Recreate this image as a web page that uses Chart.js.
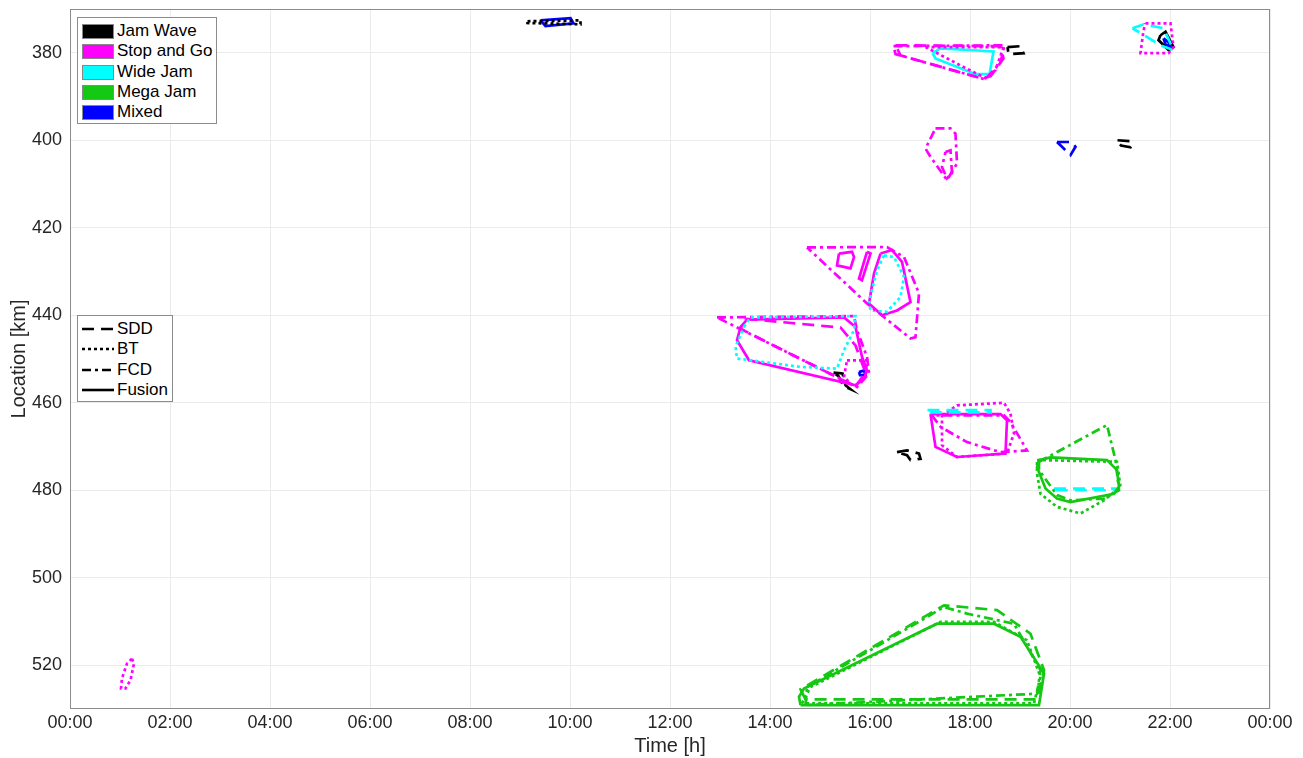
<!DOCTYPE html>
<html>
<head>
<meta charset="utf-8">
<script src="https://cdn.jsdelivr.net/npm/chart.js@4/dist/chart.umd.min.js"></script>
<style>
  body { margin: 0; background: #fff; font-family: "Liberation Sans", Arial, sans-serif; }
  #wrap { position: relative; width: 1303px; height: 758px; }
  .legend { position: absolute; background: #fff; border: 1px solid #8c8c8c; font-size: 17px; color: #000; }
  .legend .row { position: absolute; left: 0; height: 20px; line-height: 20px; white-space: nowrap; }
  .legend .patch { position: absolute; left: 4px; top: 3px; width: 32px; height: 15px; border: 1px solid #888; box-sizing: border-box; }
  .legend .lbl { position: absolute; left: 39px; top: 0; }
  .legend svg { position: absolute; left: 4px; top: 0; }
</style>
</head>
<body>
<div id="wrap">
  <canvas id="chart"></canvas>
  <div class="legend" id="legType" style="left:77px; top:17px; width:138px; height:105px;"></div>
  <div class="legend" id="legSrc" style="left:77px; top:315px; width:94px; height:85px;"></div>
</div>
<script>
// tick labels / categories
const xTicks = [0, 2, 4, 6, 8, 10, 12, 14, 16, 18, 20, 22, 24];
const yTicks = [380, 400, 420, 440, 460, 480, 500, 520];
const jamTypes = ['Jam Wave', 'Stop and Go', 'Wide Jam', 'Mega Jam', 'Mixed'];
const sources = ['SDD', 'BT', 'FCD', 'Fusion'];

// polygons [time h, location km]
const mixedFus10 = [[9.41,372.6],[10.01,372.1],[10.07,373.3],[9.51,373.9]];
const waveBt10 = [[9.15,372.8],[10.21,372.6],[10.21,373.5],[9.15,373.2]];
const waveSdd19 = [[18.75,378.7],[19.01,378.5],[19.07,380.1],[18.77,380.3]];
const sgFcd380 = [[16.47,378.5],[18.69,378.3],[18.61,382.2],[18.31,386.1],[16.51,380.3]];
const sgSdd380 = [[16.51,378.3],[18.61,378.5],[18.67,381.3],[18.41,385.4],[18.21,385.8],[16.61,380.6]];
const sgBt380 = [[17.11,378.7],[18.67,378.7],[18.51,384.0],[18.31,385.8],[17.81,382.9]];
const wideFus380 = [[17.25,380.1],[17.41,379.0],[18.47,379.7],[18.39,384.9],[18.11,384.9],[17.31,381.3]];
const sgBt22 = [[21.51,373.3],[22.01,373.3],[22.07,378.7],[21.97,380.1],[21.41,380.1],[21.47,374.9]];
const wideSdd22 = [[21.25,374.4],[21.47,373.5],[21.87,374.4],[22.07,379.4],[21.81,378.3],[21.41,375.5]];
const waveFus22 = [[21.81,376.0],[21.91,375.2],[22.07,378.7],[21.97,379.4],[21.77,377.1]];
const mixedFus22 = [[21.87,376.7],[21.97,377.6],[22.01,378.7],[21.91,378.1]];
const sgFcd400 = [[17.31,397.3],[17.61,397.3],[17.71,398.5],[17.74,405.3],[17.54,409.1],[17.21,403.8],[17.11,401.9]];
const sgFcd400b = [[17.51,402.7],[17.61,402.3],[17.64,407.6],[17.54,408.7],[17.44,406.1]];
const mixedSdd400 = [[19.74,400.4],[20.04,400.4],[20.11,401.5],[20.01,403.4],[19.84,401.5]];
const waveSdd400 = [[20.95,400.0],[21.21,400.2],[21.24,401.0],[21.21,401.6],[21.02,401.2],[20.97,400.6]];
const sgFcd425 = [[14.74,424.5],[16.34,424.4],[16.68,426.7],[16.98,435.0],[16.91,445.0],[16.81,445.3],[15.94,437.3]];
const sgFus425 = [[16.21,425.9],[16.44,425.1],[16.64,427.8],[16.81,437.0],[16.54,438.9],[16.24,440.0],[15.98,437.3],[16.08,430.5]];
const wideBt425 = [[16.28,426.3],[16.48,426.7],[16.68,431.2],[16.61,435.8],[16.34,439.2],[16.01,438.9],[15.98,437.0],[16.14,429.7]];
const sgFus425b = [[15.38,425.9],[15.64,425.5],[15.68,426.7],[15.61,429.3],[15.34,428.6]];
const sgFus425c = [[15.94,425.5],[16.01,425.9],[15.84,432.0],[15.78,431.6]];
const sgFcd440 = [[12.94,440.5],[15.68,440.2],[15.74,443.4],[15.94,449.5],[15.98,453.3],[15.74,456.4]];
const sgSdd440 = [[13.51,440.8],[15.41,442.8],[15.71,446.9],[15.91,453.1],[15.71,456.3],[13.41,443.1]];
const sgFus440 = [[13.54,441.0],[15.48,440.5],[15.71,442.7],[15.84,449.5],[15.94,452.6],[15.88,454.5],[15.71,456.0],[13.58,450.3],[13.34,445.7],[13.41,442.7]];
const wideBt440 = [[13.48,442.7],[13.61,440.5],[15.71,440.2],[15.68,443.4],[15.48,448.0],[15.34,452.2],[14.61,451.8],[13.34,449.9],[13.31,447.2]];
const sgBt455 = [[15.54,450.3],[15.94,450.3],[15.91,454.1],[15.68,456.4],[15.48,454.1]];
const waveSdd455 = [[15.27,453.1],[15.45,453.3],[15.51,456.0],[15.61,456.9],[15.47,456.2],[15.37,453.9]];
const mixedFus455 = [[15.78,453.0],[15.88,452.6],[15.91,453.7],[15.80,453.7]];
const wideSdd462 = [[17.15,461.7],[18.41,461.7],[18.41,462.2],[17.15,462.2]];
const sgBt465 = [[17.44,462.9],[17.74,460.6],[18.68,460.0],[18.81,462.5],[18.88,467.0],[18.74,471.6],[17.74,472.4],[17.44,469.7]];
const sgFus465 = [[17.21,462.6],[18.61,462.6],[18.74,464.0],[18.71,471.6],[17.74,472.4],[17.31,470.1]];
const sgFcd465 = [[17.24,462.9],[17.41,465.5],[17.94,469.0],[18.61,471.3],[19.14,470.9],[18.81,464.4],[18.68,462.9]];
const waveSdd472 = [[16.54,471.3],[16.74,470.9],[16.98,471.6],[17.01,472.8],[16.81,473.1],[16.74,472.0]];
const megaFus478 = [[19.38,473.1],[19.61,472.5],[20.74,473.1],[20.94,475.4],[20.98,479.2],[20.88,480.8],[20.01,482.7],[19.74,481.9],[19.51,479.6],[19.34,474.7]];
const megaFcd478 = [[19.38,473.5],[20.74,465.1],[20.91,473.1],[20.98,480.0],[20.68,481.9],[20.01,482.3],[19.74,481.1],[19.38,475.4]];
const megaBt478 = [[19.34,473.1],[20.94,473.5],[21.01,479.2],[20.68,482.3],[20.21,485.3],[19.74,483.8],[19.41,480.8],[19.34,476.2]];
const wideSdd480 = [[19.68,479.6],[20.94,479.6],[20.94,480.0],[19.68,480.0]];
const megaFus520 = [[14.61,529.1],[14.58,527.2],[14.68,525.3],[17.34,510.5],[18.48,510.5],[19.01,513.5],[19.48,521.9],[19.38,529.1]];
const megaBt520 = [[14.64,528.7],[14.81,525.0],[17.41,510.1],[18.48,510.1],[19.14,514.3],[19.41,522.7],[19.28,528.7]];
const megaSdd520 = [[14.71,527.8],[14.61,525.5],[17.48,506.3],[18.54,507.4],[19.21,512.8],[19.48,521.1],[19.34,527.8]];
const megaFcd520 = [[14.74,525.0],[17.48,506.7],[17.94,508.2],[18.88,510.5],[19.41,521.1],[19.34,526.5],[14.71,529.1]];
const sgBt522 = [[1.24,518.5],[1.28,519.6],[1.21,523.4],[1.11,525.3],[1.02,525.3],[1.04,523.0],[1.14,519.6]];

const typeColors = { 'Jam Wave': '#000000', 'Stop and Go': '#ff00ff', 'Wide Jam': '#00ffff', 'Mega Jam': '#14c814', 'Mixed': '#0000ff' };
const srcDash = { SDD: [12, 7], BT: [3, 3], FCD: [9, 4, 3, 4], Fusion: [] };

const shapes = [
  [waveBt10, 'Jam Wave', 'BT'], [mixedFus10, 'Mixed', 'Fusion'], [waveSdd19, 'Jam Wave', 'SDD'],
  [sgFcd380, 'Stop and Go', 'FCD'], [sgSdd380, 'Stop and Go', 'SDD'], [sgBt380, 'Stop and Go', 'BT'], [wideFus380, 'Wide Jam', 'Fusion'],
  [sgBt22, 'Stop and Go', 'BT'], [wideSdd22, 'Wide Jam', 'SDD'], [waveFus22, 'Jam Wave', 'Fusion'], [mixedFus22, 'Mixed', 'Fusion'],
  [sgFcd400, 'Stop and Go', 'FCD'], [sgFcd400b, 'Stop and Go', 'FCD'], [mixedSdd400, 'Mixed', 'SDD'], [waveSdd400, 'Jam Wave', 'SDD'],
  [sgFcd425, 'Stop and Go', 'FCD'], [wideBt425, 'Wide Jam', 'BT'], [sgFus425, 'Stop and Go', 'Fusion'], [sgFus425b, 'Stop and Go', 'Fusion'], [sgFus425c, 'Stop and Go', 'Fusion'],
  [wideBt440, 'Wide Jam', 'BT'], [sgFcd440, 'Stop and Go', 'FCD'], [sgSdd440, 'Stop and Go', 'SDD'], [sgFus440, 'Stop and Go', 'Fusion'],
  [sgBt455, 'Stop and Go', 'BT'], [waveSdd455, 'Jam Wave', 'SDD'], [mixedFus455, 'Mixed', 'Fusion'],
  [wideSdd462, 'Wide Jam', 'SDD'], [sgBt465, 'Stop and Go', 'BT'], [sgFcd465, 'Stop and Go', 'FCD'], [sgFus465, 'Stop and Go', 'Fusion'], [waveSdd472, 'Jam Wave', 'SDD'],
  [megaFcd478, 'Mega Jam', 'FCD'], [megaBt478, 'Mega Jam', 'BT'], [megaFus478, 'Mega Jam', 'Fusion'], [wideSdd480, 'Wide Jam', 'SDD'],
  [megaSdd520, 'Mega Jam', 'SDD'], [megaFcd520, 'Mega Jam', 'FCD'], [megaBt520, 'Mega Jam', 'BT'], [megaFus520, 'Mega Jam', 'Fusion'],
  [sgBt522, 'Stop and Go', 'BT']
];

const datasets = shapes.map(([pts, type, src]) => {
  const data = pts.map(p => ({ x: p[0], y: p[1] }));
  data.push({ x: pts[0][0], y: pts[0][1] });
  return {
    label: type + ' ' + src,
    data: data,
    showLine: true,
    borderColor: typeColors[type],
    borderWidth: 2.7,
    borderDash: srcDash[src],
    pointRadius: 0,
    fill: false,
    tension: 0
  };
});

const frame = {
  id: 'frame',
  afterDraw(chart) {
    const a = chart.chartArea, c = chart.ctx;
    c.save();
    c.strokeStyle = '#8c8c8c';
    c.lineWidth = 1;
    c.strokeRect(a.left + 0.5, a.top + 0.5, a.right - a.left - 1, a.bottom - a.top - 1);
    c.restore();
  }
};

const ctx = document.getElementById('chart');
new Chart(ctx, {
  type: 'scatter',
  data: { datasets: datasets },
  options: {
    responsive: true,
    maintainAspectRatio: false,
    animation: false,
    layout: { padding: { left: 0, right: 33, top: 9, bottom: 0 } },
    scales: {
      x: {
        type: 'linear', min: 0, max: 24,
        afterBuildTicks: s => { s.ticks = xTicks.map(v => ({ value: v })); },
        afterFit: s => { s.height = 49; s.paddingLeft = 0; s.paddingRight = 0; },
        ticks: {
          padding: 3, color: '#262626', font: { family: 'Liberation Sans', size: 18 },
          callback: v => String(v % 24).padStart(2, '0') + ':00'
        },
        grid: { color: '#ebebeb', drawTicks: false },
        border: { display: false },
        title: { display: true, text: 'Time [h]', color: '#262626', font: { family: 'Liberation Sans', size: 20 }, padding: { top: 0, bottom: 0 } }
      },
      y: {
        type: 'linear', min: 370, max: 530, reverse: true,
        afterBuildTicks: s => { s.ticks = yTicks.map(v => ({ value: v })); },
        afterFit: s => { s.width = 70; s.paddingTop = 0; s.paddingBottom = 0; },
        ticks: { padding: 8, color: '#262626', font: { family: 'Liberation Sans', size: 18 } },
        grid: { color: '#ebebeb', drawTicks: false },
        border: { display: false },
        title: { display: true, text: 'Location [km]', color: '#262626', font: { family: 'Liberation Sans', size: 20 }, padding: { top: 7, bottom: 0 } }
      }
    },
    plugins: { legend: { display: false }, tooltip: { enabled: false } }
  },
  plugins: [frame]
});

// legends
const legType = document.getElementById('legType');
jamTypes.forEach((t, i) => {
  const row = document.createElement('div');
  row.className = 'row';
  row.style.top = (3 + i * 20.3) + 'px';
  row.innerHTML = '<div class="patch" style="background:' + typeColors[t] + '"></div><span class="lbl">' + t + '</span>';
  legType.appendChild(row);
});
const legSrc = document.getElementById('legSrc');
sources.forEach((s, i) => {
  const row = document.createElement('div');
  row.className = 'row';
  row.style.top = (3 + i * 20.3) + 'px';
  const dash = srcDash[s].length ? srcDash[s].join(',') : 'none';
  row.innerHTML = '<svg width="32" height="20"><line x1="0" y1="10" x2="32" y2="10" stroke="#000" stroke-width="2.6" stroke-dasharray="' + dash + '"/></svg><span class="lbl">' + s + '</span>';
  legSrc.appendChild(row);
});
</script>
</body>
</html>
